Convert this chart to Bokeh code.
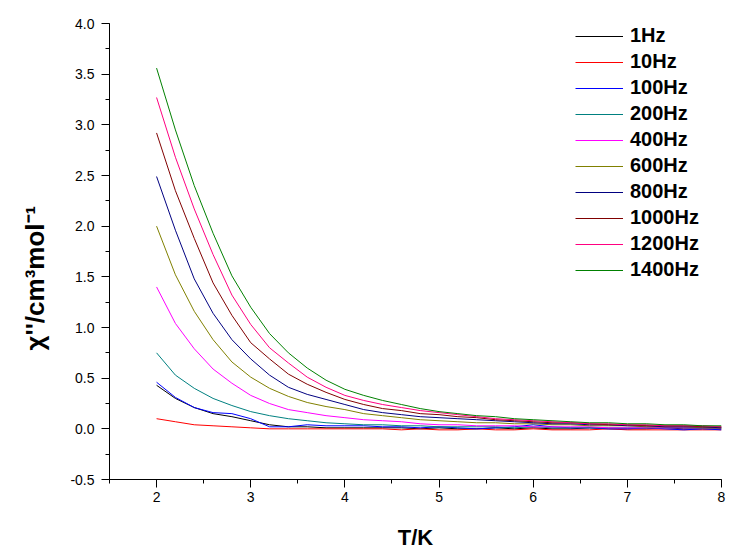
from bokeh.plotting import figure
from bokeh.models import (Legend, LegendItem, SingleIntervalTicker, NumeralTickFormatter, Range1d, Title)
from bokeh.embed import file_html
from bokeh.resources import INLINE

# Temperature (K)
T = [2.0, 2.2, 2.4, 2.6, 2.8, 3.0, 3.2, 3.4, 3.6, 3.8, 4.0, 4.2, 4.4, 4.6, 4.8,
     5.0, 5.2, 5.4, 5.6, 5.8, 6.0, 6.2, 6.4, 6.6, 6.8, 7.0, 7.2, 7.4, 7.6, 7.8, 8.0]

labels = ["1Hz", "10Hz", "100Hz", "200Hz", "400Hz", "600Hz", "800Hz", "1000Hz", "1200Hz", "1400Hz"]
colors = ["#000000", "#FF0000", "#0000FF", "#008080", "#FF00FF", "#808000",
          "#000080", "#800000", "#FF0080", "#008000"]

chi_1Hz = [0.43, 0.30, 0.21, 0.15, 0.12, 0.08, 0.04, 0.02, 0.02, 0.01, 0.01, 0.01, 0.01, 0.01, 0.00,
           0.01, 0.00, 0.00, 0.01, 0.00, 0.01, 0.00, 0.00, 0.01, 0.00, 0.00, 0.00, 0.01, 0.00, 0.00, 0.00]
chi_10Hz = [0.10, 0.07, 0.04, 0.03, 0.02, 0.01, 0.00, 0.00, 0.00, 0.00, 0.00, 0.00, 0.00, -0.01, 0.00,
            -0.01, -0.01, 0.00, -0.01, -0.01, 0.00, -0.01, -0.01, -0.01, 0.00, -0.01, -0.01, -0.01, -0.01, -0.01, -0.01]
chi_100Hz = [0.46, 0.31, 0.21, 0.16, 0.15, 0.10, 0.02, 0.02, 0.04, 0.03, 0.03, 0.03, 0.02, 0.02, 0.01,
             0.02, 0.01, 0.00, 0.01, 0.02, 0.04, 0.02, 0.01, 0.01, 0.00, 0.00, 0.01, 0.00, -0.01, 0.00, -0.01]
chi_200Hz = [0.75, 0.53, 0.40, 0.30, 0.23, 0.17, 0.13, 0.10, 0.08, 0.06, 0.05, 0.04, 0.04, 0.03, 0.03,
             0.02, 0.02, 0.02, 0.02, 0.01, 0.02, 0.01, 0.01, 0.01, 0.01, 0.01, 0.01, 0.01, 0.01, 0.01, 0.01]
chi_400Hz = [1.40, 1.04, 0.79, 0.59, 0.45, 0.33, 0.25, 0.19, 0.16, 0.13, 0.11, 0.09, 0.08, 0.07, 0.05,
             0.04, 0.04, 0.03, 0.03, 0.03, 0.02, 0.02, 0.02, 0.02, 0.01, 0.01, 0.01, 0.01, 0.01, 0.01, 0.01]
chi_600Hz = [2.00, 1.52, 1.16, 0.88, 0.66, 0.51, 0.40, 0.32, 0.26, 0.22, 0.19, 0.15, 0.13, 0.11, 0.09,
             0.08, 0.07, 0.06, 0.06, 0.05, 0.05, 0.04, 0.04, 0.03, 0.03, 0.03, 0.02, 0.02, 0.02, 0.01, 0.01]
chi_800Hz = [2.49, 1.96, 1.48, 1.14, 0.88, 0.69, 0.53, 0.41, 0.34, 0.29, 0.24, 0.19, 0.16, 0.14, 0.12,
             0.11, 0.10, 0.09, 0.08, 0.07, 0.06, 0.05, 0.05, 0.04, 0.04, 0.03, 0.03, 0.02, 0.02, 0.02, 0.01]
chi_1000Hz = [2.92, 2.35, 1.88, 1.44, 1.12, 0.85, 0.69, 0.54, 0.44, 0.36, 0.29, 0.24, 0.20, 0.18, 0.15,
              0.14, 0.12, 0.11, 0.09, 0.08, 0.07, 0.06, 0.06, 0.05, 0.04, 0.04, 0.03, 0.03, 0.03, 0.02, 0.02]
chi_1200Hz = [3.27, 2.68, 2.17, 1.72, 1.32, 1.03, 0.80, 0.65, 0.51, 0.41, 0.33, 0.28, 0.24, 0.21, 0.18,
              0.16, 0.14, 0.12, 0.10, 0.09, 0.08, 0.07, 0.06, 0.05, 0.05, 0.04, 0.04, 0.03, 0.03, 0.03, 0.02]
chi_1400Hz = [3.56, 2.95, 2.40, 1.93, 1.51, 1.20, 0.94, 0.75, 0.60, 0.48, 0.39, 0.33, 0.28, 0.24, 0.20,
              0.17, 0.15, 0.13, 0.12, 0.10, 0.09, 0.08, 0.07, 0.06, 0.06, 0.05, 0.05, 0.04, 0.04, 0.03, 0.03]

series = [chi_1Hz, chi_10Hz, chi_100Hz, chi_200Hz, chi_400Hz, chi_600Hz,
          chi_800Hz, chi_1000Hz, chi_1200Hz, chi_1400Hz]

x_title = "T/K"
y_title = "χ''/cm³mol⁻¹"

p = figure(width=729, height=560, output_backend="svg", toolbar_location=None,
           x_range=Range1d(1.5, 8.0), y_range=Range1d(-0.5, 4.0),
           min_border_left=109, min_border_right=8, min_border_top=23, min_border_bottom=81)
p.outline_line_color = None
p.xgrid.visible = False
p.ygrid.visible = False
p.background_fill_color = "white"
p.border_fill_color = "white"

items = []
for lab, col, ys in zip(labels, colors, series):
    r = p.line(T, ys, line_color=col, line_width=1)
    items.append(LegendItem(label=lab, renderers=[r]))

legend = Legend(items=items, location=(466, 197.5), padding=0, spacing=2,
                glyph_width=48, glyph_height=24, label_height=24, label_standoff=7,
                border_line_color=None, background_fill_alpha=0,
                label_text_font="Liberation Sans", label_text_font_style="bold",
                label_text_font_size="20px", label_text_color="black", margin=0)
p.add_layout(legend, "center")

font = "Liberation Sans"
p.xaxis.ticker = SingleIntervalTicker(interval=1, num_minor_ticks=2)
p.yaxis.ticker = SingleIntervalTicker(interval=0.5, num_minor_ticks=2)
p.yaxis.formatter = NumeralTickFormatter(format="0.0")

for ax in (p.xaxis, p.yaxis):
    ax.axis_line_color = "black"
    ax.axis_line_width = 1
    ax.major_tick_in = 0
    ax.major_tick_out = 8
    ax.minor_tick_in = 0
    ax.minor_tick_out = 4
    ax.major_tick_line_color = "black"
    ax.minor_tick_line_color = "black"
    ax.major_label_text_font = font
    ax.major_label_text_font_size = "14px"
    ax.major_label_text_color = "black"

p.xaxis.major_label_standoff = 4
p.yaxis.major_label_standoff = 7

p.xaxis.axis_label = x_title
p.xaxis.axis_label_text_font = font
p.xaxis.axis_label_text_font_style = "bold"
p.xaxis.axis_label_text_font_size = "22px"
p.xaxis.axis_label_text_color = "black"
p.xaxis.axis_label_standoff = 20

ytitle = Title(text=y_title, align="left", offset=129, vertical_align="middle", standoff=34,
               text_font=font, text_font_style="bold", text_font_size="26px", text_color="black")
p.add_layout(ytitle, "left")

open("out.html", "w").write(file_html(p, INLINE))
